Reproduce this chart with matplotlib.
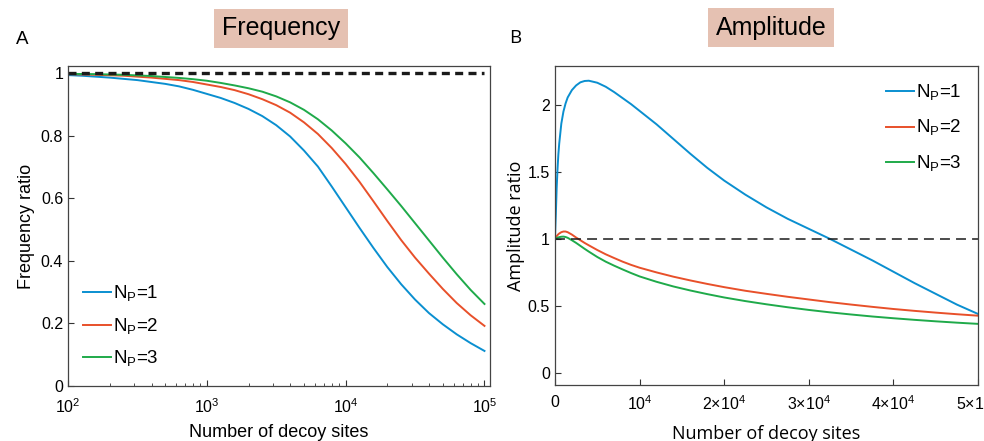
import matplotlib
matplotlib.use("Agg")
import matplotlib.pyplot as plt
import numpy as np

plt.rcParams["font.family"] = ["Liberation Sans", "DejaVu Sans"]
plt.rcParams["mathtext.fontset"] = "custom"
plt.rcParams["mathtext.rm"] = "Liberation Sans"

# ---- data ----
# panel A: log10(number of decoy sites) and frequency ratio
freq_logx = [2.0, 2.1, 2.2, 2.3, 2.4, 2.5, 2.6, 2.7, 2.8, 2.9, 3.0, 3.1, 3.2, 3.3, 3.4, 3.5,
             3.6, 3.7, 3.8, 3.9, 4.0, 4.1, 4.2, 4.3, 4.4, 4.5, 4.6, 4.7, 4.8, 4.9, 5.0]
freq_np1 = [0.993, 0.991, 0.988, 0.985, 0.981, 0.977, 0.971, 0.965, 0.957, 0.946, 0.933,
            0.920, 0.904, 0.885, 0.862, 0.833, 0.797, 0.752, 0.701, 0.637, 0.571, 0.505,
            0.441, 0.380, 0.325, 0.276, 0.233, 0.197, 0.165, 0.137, 0.112]
freq_np2 = [0.996, 0.995, 0.994, 0.9925, 0.991, 0.988, 0.985, 0.981, 0.977, 0.971, 0.963,
            0.955, 0.945, 0.932, 0.916, 0.897, 0.873, 0.842, 0.805, 0.760, 0.709, 0.652,
            0.590, 0.527, 0.466, 0.410, 0.359, 0.310, 0.265, 0.226, 0.192]
freq_np3 = [0.997, 0.9965, 0.996, 0.995, 0.994, 0.992, 0.990, 0.987, 0.984, 0.980, 0.975,
            0.968, 0.960, 0.951, 0.940, 0.925, 0.906, 0.882, 0.852, 0.816, 0.775, 0.730,
            0.680, 0.628, 0.575, 0.520, 0.465, 0.410, 0.357, 0.307, 0.262]

# panel B: number of decoy sites (thousands) and amplitude ratio
amp_n_k = [0, 0.05, 0.1, 0.2, 0.3, 0.4, 0.5, 0.75, 1, 1.25, 1.5, 2, 2.5, 3, 3.5, 4, 5, 6,
           7, 8, 9, 10, 12, 14, 16, 18, 20, 22.5, 25, 27.5, 30, 32.5, 35, 37.5, 40, 42.5,
           45, 47.5, 50]
amp_np1 = [1.0, 1.10, 1.18, 1.38, 1.52, 1.63, 1.71, 1.86, 1.95, 2.01, 2.055, 2.11, 2.145,
           2.168, 2.178, 2.18, 2.165, 2.135, 2.095, 2.05, 2.005, 1.955, 1.855, 1.745, 1.635,
           1.53, 1.435, 1.33, 1.235, 1.15, 1.075, 1.0, 0.92, 0.84, 0.755, 0.67, 0.59, 0.51,
           0.44]
amp_np2 = [1.0, 1.004, 1.008, 1.02, 1.028, 1.035, 1.04, 1.05, 1.055, 1.055, 1.05, 1.032,
           1.01, 0.99, 0.97, 0.952, 0.917, 0.885, 0.857, 0.83, 0.806, 0.785, 0.75, 0.718,
           0.69, 0.664, 0.64, 0.613, 0.59, 0.568, 0.548, 0.528, 0.51, 0.493, 0.477, 0.463,
           0.45, 0.438, 0.427]
amp_np3 = [1.0, 1.002, 1.003, 1.006, 1.009, 1.011, 1.013, 1.016, 1.017, 1.014, 1.008, 0.99,
           0.97, 0.948, 0.926, 0.905, 0.865, 0.83, 0.80, 0.772, 0.745, 0.72, 0.68, 0.645,
           0.615, 0.588, 0.563, 0.536, 0.512, 0.49, 0.47, 0.452, 0.436, 0.421, 0.408, 0.396,
           0.385, 0.375, 0.366]

labels = ["N$_\\mathregular{P}$=1", "N$_\\mathregular{P}$=2", "N$_\\mathregular{P}$=3"]
colors = ["#0a8fd0", "#e8502a", "#1faa4a"]
amp_xticks = [0, 1e4, 2e4, 3e4, 4e4, 5e4]
amp_xticklabels = ["0", "10$^4$", "2\u00d710$^4$", "3\u00d710$^4$", "4\u00d710$^4$", "5\u00d710$^4$"]

fig = plt.figure(figsize=(9.84, 4.41), dpi=100)
ax1 = fig.add_axes([0.0691, 0.1247, 0.4289, 0.7256])
ax2 = fig.add_axes([0.564, 0.127, 0.4299, 0.7234])

# panel A
fx = 10 ** np.array(freq_logx)
for ys, c, lab in zip([freq_np1, freq_np2, freq_np3], colors, labels):
    ax1.plot(fx, ys, color=c, lw=1.4, label=lab)
ax1.plot([fx[0], fx[-1]], [1, 1], color="#1a1a1a", lw=2.4, ls=(0, (2.4, 1.6)))
ax1.set_xscale("log")
ax1.set_xlim(100, 10 ** 5.04)
ax1.set_ylim(0, 1.022)
ax1.set_yticks([0, 0.2, 0.4, 0.6, 0.8, 1])
ax1.set_yticklabels(["0", "0.2", "0.4", "0.6", "0.8", "1"])
ax1.tick_params(axis="x", which="major", pad=8)
ax1.set_xlabel("Number of decoy sites", fontsize=13, labelpad=6)
ax1.set_ylabel("Frequency ratio", fontsize=13, labelpad=4)
ax1.legend(loc="lower left", frameon=False, fontsize=13.5, handlelength=1.5,
           handletextpad=0.1, labelspacing=0.65, bbox_to_anchor=(-0.005, 0.0))

# panel B
bx = np.array(amp_n_k) * 1000
for ys, c, lab in zip([amp_np1, amp_np2, amp_np3], colors, labels):
    ax2.plot(bx, ys, color=c, lw=1.4, label=lab)
ax2.axhline(1, color="#1a1a1a", lw=1.1, ls=(0, (6.5, 4)))
ax2.set_xlim(0, 5e4)
ax2.set_ylim(-0.09, 2.29)
ax2.set_yticks([0, 0.5, 1, 1.5, 2])
ax2.set_yticklabels(["0", "0.5", "1", "1.5", "2"])
ax2.set_xticks(amp_xticks)
ax2.set_xticklabels(amp_xticklabels)
ax2.tick_params(axis="x", which="major", pad=7)
ax2.set_xlabel("Number of decoy sites", fontsize=13, labelpad=8, family="Open Sans")
ax2.set_ylabel("Amplitude ratio", fontsize=13, labelpad=2, family="Open Sans")
ax2.legend(loc="upper right", frameon=False, fontsize=13.5, handlelength=1.5,
           handletextpad=0.1, labelspacing=0.8, bbox_to_anchor=(1.0, 1.0))

for ax in (ax1, ax2):
    ax.tick_params(which="both", direction="in", labelsize=11.5, color="#333333")
    ax.tick_params(which="major", length=4)
    ax.tick_params(which="minor", length=2)
    for s in ax.spines.values():
        s.set_color("#444444")
        s.set_linewidth(0.9)

box = dict(boxstyle="square,pad=0.3", facecolor="#e5c1b2", edgecolor="none")
fig.text(281 / 984, 1 - 28 / 441, "Frequency", fontsize=18, ha="center", va="center", bbox=box)
fig.text(771 / 984, 1 - 27.5 / 441, "Amplitude", fontsize=18, ha="center", va="center", bbox=box)
fig.text(22 / 984, 1 - 39 / 441, "A", fontsize=13.5, ha="center", va="center")
fig.text(515 / 984, 1 - 38 / 441, "B", fontsize=13.5, ha="center", va="center", family="Open Sans")

fig.savefig("out.png", dpi=100)
